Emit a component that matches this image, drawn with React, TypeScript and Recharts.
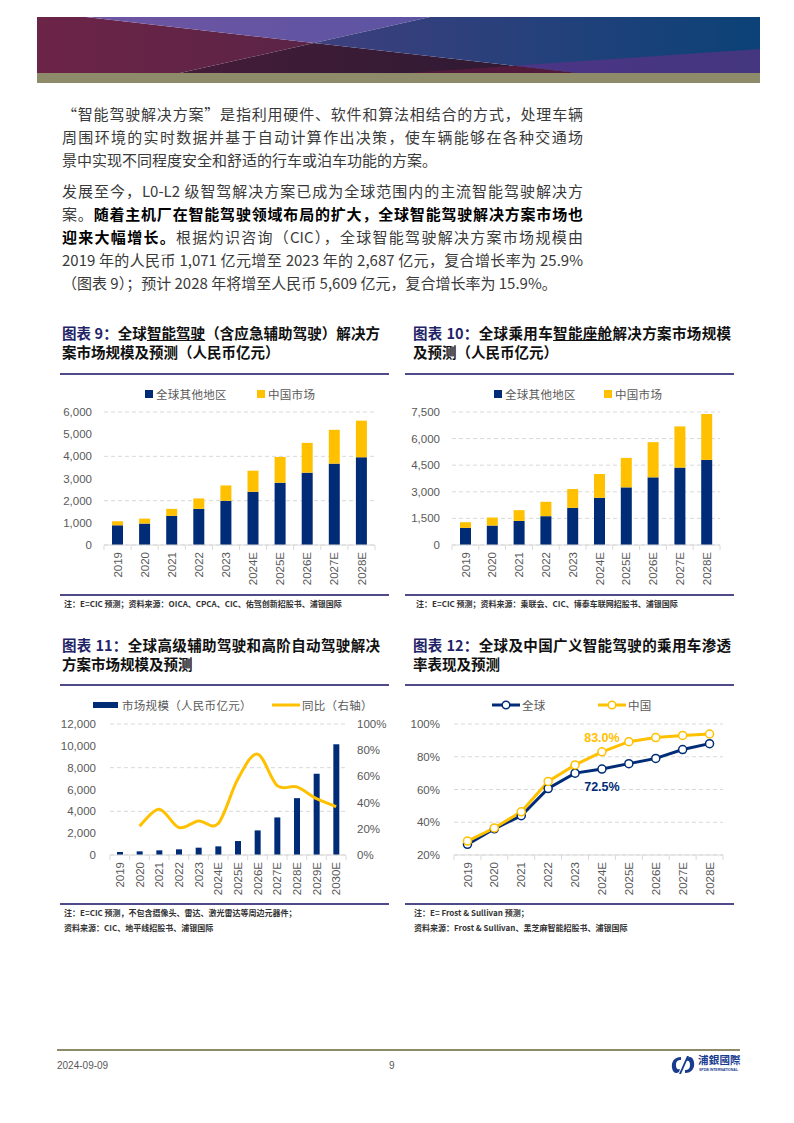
import React from "react";
import {
  BarChart,
  Bar,
  ComposedChart,
  Line,
  LineChart,
  XAxis,
  YAxis,
  CartesianGrid,
  LabelList,
} from "recharts";

const years10 = ["2019", "2020", "2021", "2022", "2023", "2024E", "2025E", "2026E", "2027E", "2028E"];
const years12 = [...years10, "2029E", "2030E"];

// 图表 9
const adasRest = [890, 967, 1314, 1631, 1994, 2402, 2810, 3263, 3671, 3958];
const adasChina = [181, 223, 316, 469, 693, 951, 1163, 1344, 1525, 1651];
const adasTicks = [0, 1000, 2000, 3000, 4000, 5000, 6000];

// 图表 10
const cockpitRest = [964, 1096, 1360, 1625, 2097, 2664, 3250, 3816, 4364, 4799];
const cockpitChina = [321, 453, 605, 812, 1058, 1341, 1662, 1984, 2324, 2588];
const cockpitTicks = [0, 1500, 3000, 4500, 6000, 7500];

// 图表 11
const advMarket = [274, 335, 426, 518, 670, 792, 1279, 2254, 3442, 5208, 7432, 10143];
const advYoy = [null, 22, 35, 21, 26, 24, 58, 77, 53, 52, 43, 37];
const advTicks = [0, 2000, 4000, 6000, 8000, 10000, 12000];
const yoyTicks = [0, 20, 40, 60, 80, 100];

// 图表 12
const penGlobal = [26.5, 36, 44, 60.6, 70, 72.5, 75.8, 79, 84.4, 88];
const penChina = [28.5, 36.5, 46.4, 64.9, 75, 83, 89.2, 91.7, 93, 93.9];
const penTicks = [20, 40, 60, 80, 100];

const NAVY = "#002C77";
const GOLD = "#FFC000";
const GRAY = "#595959";
const GRID = "#D9D9D9";
const RULE = "#4F4A8A";
const OLIVE = "#8E8B6B";
const TICK_FONT = "'Liberation Sans', 'Noto Sans CJK SC', sans-serif";
const CJK = "'Noto Sans CJK SC', 'Liberation Sans', sans-serif";

const adasData = years10.map((y, i) => ({ year: y, rest: adasRest[i], china: adasChina[i] }));
const cockpitData = years10.map((y, i) => ({ year: y, rest: cockpitRest[i], china: cockpitChina[i] }));
const advData = years12.map((y, i) => ({ year: y, market: advMarket[i], yoy: advYoy[i] }));
const penData = years10.map((y, i) => ({ year: y, global: penGlobal[i], china: penChina[i] }));

const fmt = (v: number) => v.toLocaleString("en-US");

// Excel-like smoothed line (Catmull-Rom through every point)
const smoothCurve = (context: any) => {
  let pts: number[][] = [];
  return {
    areaStart() {},
    areaEnd() {},
    lineStart() {
      pts = [];
    },
    lineEnd() {
      if (!pts.length) return;
      context.moveTo(pts[0][0], pts[0][1]);
      const k = 1 / 6;
      for (let i = 0; i < pts.length - 1; i++) {
        const p0 = pts[i - 1] || pts[i];
        const p1 = pts[i];
        const p2 = pts[i + 1];
        const p3 = pts[i + 2] || p2;
        context.bezierCurveTo(
          p1[0] + (p2[0] - p0[0]) * k,
          p1[1] + (p2[1] - p0[1]) * k,
          p2[0] - (p3[0] - p1[0]) * k,
          p2[1] - (p3[1] - p1[1]) * k,
          p2[0],
          p2[1]
        );
      }
    },
    point(x: number, y: number) {
      pts.push([x, y]);
    },
  };
};

// rotated year labels plus small marks between categories
const makeTick = (band: number, count: number) => (props: any) => {
  const { x, y, payload, index } = props;
  const axisY = y - 8;
  return (
    <g>
      <line x1={x - band / 2} x2={x - band / 2} y1={axisY} y2={axisY + 5} stroke={GRID} />
      {index === count - 1 && (
        <line x1={x + band / 2} x2={x + band / 2} y1={axisY} y2={axisY + 5} stroke={GRID} />
      )}
      <text
        transform={`translate(${x},${axisY + 7}) rotate(-90)`}
        textAnchor="end"
        dy="0.36em"
        fill={GRAY}
        fontSize={11.5}
        fontFamily={TICK_FONT}
      >
        {payload.value}
      </text>
    </g>
  );
};

const yTick = { fill: GRAY, fontSize: 11.5, fontFamily: TICK_FONT };

function Banner() {
  return (
    <svg width={723} height={66} style={{ position: "absolute", left: 37, top: 17 }}>
      <defs>
        <linearGradient id="gl" x1="0" x2="1">
          <stop offset="0" stopColor="#6C2447" />
          <stop offset="1" stopColor="#5B2446" />
        </linearGradient>
        <linearGradient id="gt" x1="0" x2="1">
          <stop offset="0" stopColor="#6E55A2" />
          <stop offset="1" stopColor="#5C54A3" />
        </linearGradient>
        <linearGradient id="gb" x1="0" x2="1">
          <stop offset="0" stopColor="#441C38" />
          <stop offset="1" stopColor="#2C1A33" />
        </linearGradient>
        <linearGradient id="gr" x1="0" x2="1">
          <stop offset="0" stopColor="#3F3F7E" />
          <stop offset="1" stopColor="#0B4277" />
        </linearGradient>
        <linearGradient id="gp" x1="0" x2="1">
          <stop offset="0" stopColor="#4C3586" />
          <stop offset="1" stopColor="#44367F" />
        </linearGradient>
      </defs>
      <polygon points="0,0 49,0 277,26 143,56 0,56" fill="url(#gl)" />
      <polygon points="49,0 393,0 277,26" fill="url(#gt)" />
      <polygon points="143,56 277,26 540,56" fill="url(#gb)" />
      <polygon points="393,0 723,0 723,56 540,56 277,26" fill="url(#gr)" />
      <polygon points="477,48.8 723,32 723,56 540,56" fill="url(#gp)" />
      <polygon points="371,56 477,48.8 540,56" fill="#521A3B" />
      <rect x={0} y={56} width={723} height={10} fill={OLIVE} />
    </svg>
  );
}

type Seg = { t: string; b?: boolean };
function TextLine({ segs, top, last }: { segs: Seg[]; top: number; last?: boolean }) {
  return (
    <div
      style={{
        position: "absolute",
        left: 62,
        top,
        width: 521,
        fontSize: 15,
        lineHeight: "23px",
        whiteSpace: "nowrap",
        textAlign: "justify",
        textAlignLast: last ? "left" : "justify",
        color: "#3A3A3A",
        fontFamily: CJK,
      }}
    >
      {segs.map((s, i) => (
        <span key={i} style={s.b ? { fontWeight: 700, color: "#000" } : undefined}>
          {s.t}
        </span>
      ))}
    </div>
  );
}

const titleStyle: React.CSSProperties = {
  position: "absolute",
  width: 318,
  fontSize: 14.5,
  lineHeight: "19px",
  fontWeight: 700,
  color: "#111",
  fontFamily: CJK,
  whiteSpace: "nowrap",
};

function Title({ left, top, num, line1, line2 }: { left: number; top: number; num: string; line1: React.ReactNode; line2: string }) {
  return (
    <>
      <div style={{ ...titleStyle, left, top, textAlign: "justify", textAlignLast: "justify" }}>
        <span style={{ color: "#1F2468" }}>{num}</span>
        {line1}
      </div>
      <div style={{ ...titleStyle, left, top: top + 19 }}>{line2}</div>
    </>
  );
}

function Rule({ left, top, width }: { left: number; top: number; width: number }) {
  return <div style={{ position: "absolute", left, top, width, height: 1.5, background: RULE }} />;
}

function Note({ left, top, text }: { left: number; top: number; text: string }) {
  return (
    <div
      style={{
        position: "absolute",
        left,
        top,
        fontSize: 8,
        lineHeight: "10px",
        fontWeight: 700,
        color: "#333",
        fontFamily: CJK,
        whiteSpace: "nowrap",
      }}
    >
      {text}
    </div>
  );
}

function LegendItem({ left, top, kind, color, text }: { left: number; top: number; kind: "sq" | "bar" | "line" | "dot"; color: string; text: string }) {
  let mark: React.ReactNode;
  if (kind === "sq") {
    mark = <div style={{ width: 8, height: 8, background: color, marginRight: 3 }} />;
  } else if (kind === "bar") {
    mark = <div style={{ width: 25, height: 6, background: color, marginRight: 4 }} />;
  } else {
    mark = (
      <svg width={28} height={10} style={{ marginRight: 2 }}>
        <line x1={0} x2={28} y1={5} y2={5} stroke={color} strokeWidth={3} />
        {kind === "dot" && <circle cx={14} cy={5} r={3.8} fill="#fff" stroke={color} strokeWidth={1.5} />}
      </svg>
    );
  }
  return (
    <div
      style={{
        position: "absolute",
        left,
        top: top - 8,
        height: 16,
        display: "flex",
        alignItems: "center",
        fontSize: 11.5,
        color: GRAY,
        fontFamily: CJK,
        whiteSpace: "nowrap",
        letterSpacing: 0.3,
      }}
    >
      {mark}
      {text}
    </div>
  );
}

function StackChart({ left, data, ticks, max, yWidth }: { left: number; data: any[]; ticks: number[]; max: number; yWidth: number }) {
  const plotW = 330 - yWidth - 15;
  const band = plotW / data.length;
  return (
    <div style={{ position: "absolute", left, top: 380 }}>
      <BarChart width={330} height={212} data={data} margin={{ top: 32, right: 15, bottom: 0, left: 0 }} barSize={11}>
        <CartesianGrid vertical={false} stroke={GRID} strokeDasharray="4 3" />
        <XAxis
          dataKey="year"
          height={47}
          interval={0}
          axisLine={{ stroke: GRID }}
          tickLine={false}
          tick={makeTick(band, data.length)}
        />
        <YAxis
          width={yWidth}
          domain={[0, max]}
          ticks={ticks}
          axisLine={false}
          tickLine={false}
          tickMargin={6}
          tick={yTick}
          tickFormatter={fmt}
        />
        <Bar dataKey="rest" stackId="s" fill={NAVY} isAnimationActive={false} />
        <Bar dataKey="china" stackId="s" fill={GOLD} isAnimationActive={false} />
      </BarChart>
    </div>
  );
}

const penLabel = (color: string, dy: number) => (props: any) => {
  const { x, y, value, index } = props;
  if (index !== 5) return null;
  return (
    <text x={x} y={y + dy} textAnchor="middle" fill={color} fontSize={12.5} fontWeight={700} fontFamily={TICK_FONT}>
      {Number(value).toFixed(1)}%
    </text>
  );
};

const PEN_PLOT_W = 269;
const penBand = PEN_PLOT_W / penData.length;

export default function App() {
  return (
    <div
      style={{
        position: "absolute",
        left: 0,
        top: 0,
        width: 794,
        height: 1123,
        background: "#fff",
        overflow: "hidden",
      }}
    >
      <Banner />

      <TextLine top={102} segs={[{ t: "“智能驾驶解决方案”是指利用硬件、软件和算法相结合的方式，处理车辆" }]} />
      <TextLine top={125} segs={[{ t: "周围环境的实时数据并基于自动计算作出决策，使车辆能够在各种交通场" }]} />
      <TextLine top={148} last segs={[{ t: "景中实现不同程度安全和舒适的行车或泊车功能的方案。" }]} />

      <TextLine top={179} segs={[{ t: "发展至今，L0-L2 级智驾解决方案已成为全球范围内的主流智能驾驶解决方" }]} />
      <TextLine top={202} segs={[{ t: "案。" }, { t: "随着主机厂在智能驾驶领域布局的扩大，全球智能驾驶解决方案市场也", b: true }]} />
      <TextLine top={225} segs={[{ t: "迎来大幅增长。", b: true }, { t: "根据灼识咨询（CIC），全球智能驾驶解决方案市场规模由" }]} />
      <TextLine top={248} segs={[{ t: "2019 年的人民币 1,071 亿元增至 2023 年的 2,687 亿元，复合增长率为 25.9%" }]} />
      <TextLine top={271} last segs={[{ t: "（图表 9）；预计 2028 年将增至人民币 5,609 亿元，复合增长率为 15.9%。" }]} />

      {/* 图表 9 */}
      <Title
        left={62}
        top={323}
        num="图表 9："
        line1={<>全球<span style={{ textDecoration: "underline" }}>智能驾驶</span>（含应急辅助驾驶）解决方</>}
        line2="案市场规模及预测（人民币亿元）"
      />
      <Rule left={60} top={373} width={329} />
      <LegendItem left={145} top={394} kind="sq" color={NAVY} text="全球其他地区" />
      <LegendItem left={257} top={394} kind="sq" color={GOLD} text="中国市场" />
      <StackChart left={60} data={adasData} ticks={adasTicks} max={6000} yWidth={44} />
      <Rule left={60} top={594} width={329} />
      <Note left={64} top={599} text="注：E=CIC 预测；资料来源：OICA、CPCA、CIC、佑驾创新招股书、浦银国际" />

      {/* 图表 10 */}
      <Title
        left={413}
        top={323}
        num="图表 10："
        line1={<>全球乘用车<span style={{ textDecoration: "underline" }}>智能座舱</span>解决方案市场规模</>}
        line2="及预测（人民币亿元）"
      />
      <Rule left={405} top={373} width={329} />
      <LegendItem left={494} top={394} kind="sq" color={NAVY} text="全球其他地区" />
      <LegendItem left={604} top={394} kind="sq" color={GOLD} text="中国市场" />
      <StackChart left={405} data={cockpitData} ticks={cockpitTicks} max={7500} yWidth={47} />
      <Rule left={405} top={594} width={329} />
      <Note left={416} top={599} text="注：E=CIC 预测；资料来源：乘联会、CIC、博泰车联网招股书、浦银国际" />

      {/* 图表 11 */}
      <Title left={62} top={635} num="图表 11：" line1="全球高级辅助驾驶和高阶自动驾驶解决" line2="方案市场规模及预测" />
      <Rule left={60} top={684} width={329} />
      <LegendItem left={93} top={705} kind="bar" color={NAVY} text="市场规模（人民币亿元）" />
      <LegendItem left={272} top={705} kind="line" color={GOLD} text="同比（右轴）" />
      <div style={{ position: "absolute", left: 60, top: 690 }}>
        <ComposedChart width={330} height={212} data={advData} margin={{ top: 34, right: 0, bottom: 0, left: 0 }} barSize={6}>
          <CartesianGrid vertical={false} stroke={GRID} strokeDasharray="4 3" yAxisId="l" />
          <XAxis
            dataKey="year"
            height={47}
            interval={0}
            axisLine={{ stroke: GRID }}
            tickLine={false}
            tick={makeTick(236 / advData.length, advData.length)}
          />
          <YAxis
            yAxisId="l"
            width={50}
            domain={[0, 12000]}
            ticks={advTicks}
            axisLine={false}
            tickLine={false}
            tickMargin={8}
            tick={yTick}
            tickFormatter={fmt}
          />
          <YAxis
            yAxisId="r"
            orientation="right"
            width={44}
            domain={[0, 100]}
            ticks={yoyTicks}
            axisLine={false}
            tickLine={false}
            tickMargin={5}
            tick={yTick}
            tickFormatter={(v: number) => `${v}%`}
          />
          <Bar yAxisId="l" dataKey="market" fill={NAVY} isAnimationActive={false} />
          <Line
            yAxisId="r"
            dataKey="yoy"
            type={smoothCurve as any}
            stroke={GOLD}
            strokeWidth={3}
            dot={false}
            activeDot={false}
            isAnimationActive={false}
          />
        </ComposedChart>
      </div>
      <Rule left={60} top={903} width={329} />
      <Note left={64} top={908} text="注：E=CIC 预测，不包含摄像头、雷达、激光雷达等周边元器件；" />
      <Note left={64} top={923} text="资料来源：CIC、地平线招股书、浦银国际" />

      {/* 图表 12 */}
      <Title left={413} top={635} num="图表 12：" line1="全球及中国广义智能驾驶的乘用车渗透" line2="率表现及预测" />
      <Rule left={405} top={684} width={329} />
      <LegendItem left={492} top={705} kind="dot" color={NAVY} text="全球" />
      <LegendItem left={598} top={705} kind="dot" color={GOLD} text="中国" />
      <div style={{ position: "absolute", left: 405, top: 690 }}>
        <LineChart width={330} height={212} data={penData} margin={{ top: 34, right: 12, bottom: 0, left: 0 }}>
          <CartesianGrid vertical={false} stroke={GRID} strokeDasharray="4 3" />
          <XAxis
            dataKey="year"
            height={47}
            interval={0}
            padding={{ left: penBand / 2, right: penBand / 2 }}
            axisLine={{ stroke: GRID }}
            tickLine={false}
            tick={makeTick(penBand, penData.length)}
          />
          <YAxis
            width={49}
            domain={[20, 100]}
            ticks={penTicks}
            axisLine={false}
            tickLine={false}
            tickMargin={8}
            tick={yTick}
            tickFormatter={(v: number) => `${v}%`}
          />
          <Line
            dataKey="global"
            type="linear"
            stroke={NAVY}
            strokeWidth={3}
            dot={{ r: 4, fill: "#fff", stroke: NAVY, strokeWidth: 1.5 }}
            activeDot={false}
            isAnimationActive={false}
          >
            <LabelList dataKey="global" content={penLabel(NAVY, 22)} />
          </Line>
          <Line
            dataKey="china"
            type="linear"
            stroke={GOLD}
            strokeWidth={3}
            dot={{ r: 4, fill: "#fff", stroke: GOLD, strokeWidth: 1.5 }}
            activeDot={false}
            isAnimationActive={false}
          >
            <LabelList dataKey="china" content={penLabel(GOLD, -10)} />
          </Line>
        </LineChart>
      </div>
      <Rule left={405} top={903} width={329} />
      <Note left={414} top={908} text="注：E= Frost & Sullivan 预测；" />
      <Note left={414} top={923} text="资料来源：Frost & Sullivan、黑芝麻智能招股书、浦银国际" />

      {/* footer */}
      <div style={{ position: "absolute", left: 57, top: 1049, width: 683, height: 1.5, background: OLIVE }} />
      <div style={{ position: "absolute", left: 57, top: 1060, fontSize: 10, color: GRAY, fontFamily: TICK_FONT }}>2024-09-09</div>
      <div style={{ position: "absolute", left: 389, top: 1060, fontSize: 10, color: GRAY, fontFamily: TICK_FONT }}>9</div>
      <svg width={26} height={22} style={{ position: "absolute", left: 670, top: 1054 }}>
        <path d="M11 3 C4 3 1 8 2 14 C3 19 6 20 9 18 L10 15 C7 16 6 14 6 11 C6 7 8 6 11 6 Z" fill="#1A3C8E" />
        <path d="M15 19 C22 19 25 14 24 8 C23 3 20 2 17 4 L16 7 C19 6 20 8 20 11 C20 15 18 16 15 16 Z" fill="#1A3C8E" />
        <path d="M9 20 L17 2 L19 2 L11 20 Z" fill="#1A3C8E" />
      </svg>
      <div style={{ position: "absolute", left: 698, top: 1053, fontSize: 10.5, fontWeight: 700, color: "#1A3C8E", fontFamily: "'Noto Sans CJK TC', 'Noto Sans CJK SC'", lineHeight: "14px", letterSpacing: 0.2 }}>
        浦銀國際
      </div>
      <div style={{ position: "absolute", left: 699, top: 1068, fontSize: 3.5, fontWeight: 700, color: "#1A3C8E", fontFamily: TICK_FONT, whiteSpace: "nowrap" }}>
        SPDB INTERNATIONAL
      </div>
    </div>
  );
}
